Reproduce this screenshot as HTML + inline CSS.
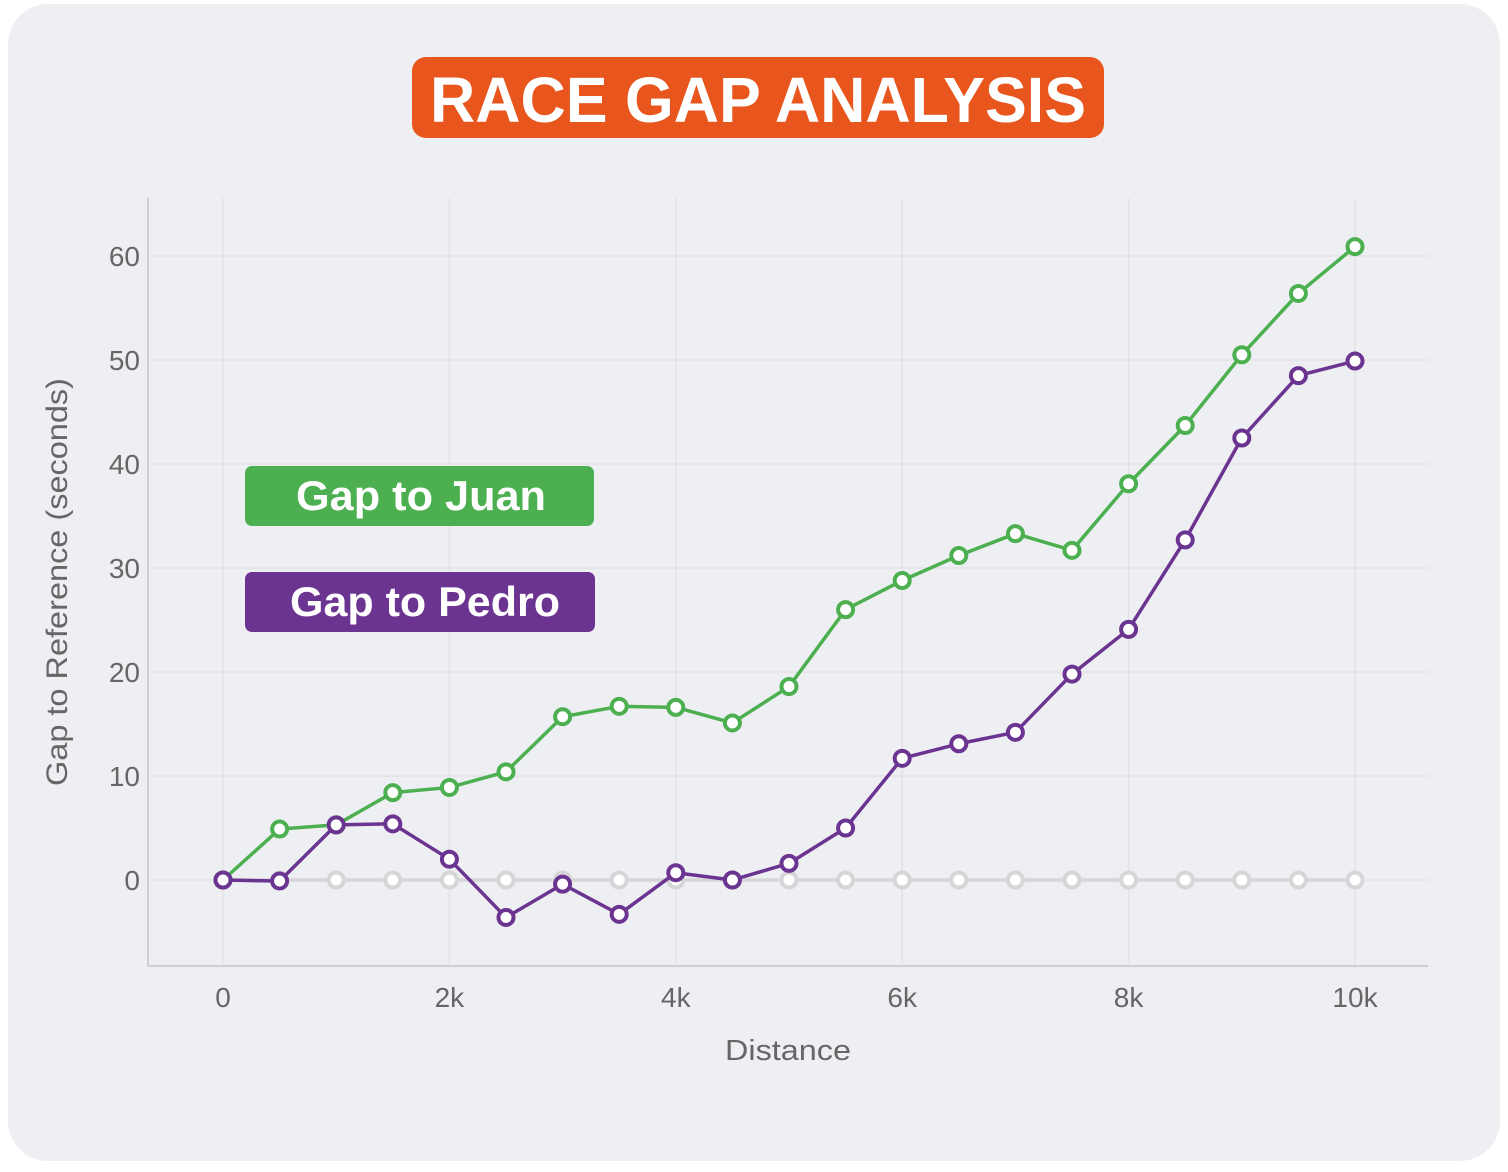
<!DOCTYPE html>
<html><head><meta charset="utf-8"><style>
html,body{margin:0;padding:0;background:#fff;width:1508px;height:1172px;overflow:hidden}
svg{display:block;font-family:"Liberation Sans",sans-serif}
</style></head><body>
<svg id="chart" width="1508" height="1172">
<rect x="8" y="4" width="1492" height="1157" rx="40" fill="#eeeff3"/>
<g>
<rect x="412" y="57" width="692" height="81" rx="14" fill="#e8561e"/>
<text x="758" y="122" text-anchor="middle" fill="#fff" font-size="64" font-weight="bold" textLength="656" lengthAdjust="spacingAndGlyphs">RACE GAP ANALYSIS</text>
</g>
<g id="grid"></g>
<line x1="148" y1="198" x2="148" y2="966" stroke="#cfcfd3" stroke-width="2"/>
<line x1="148" y1="966" x2="1428" y2="966" stroke="#cfcfd3" stroke-width="2"/>
<g id="ticks"></g>
<g id="series"></g>
<text x="788" y="1060" text-anchor="middle" font-size="29" fill="#666" textLength="126" lengthAdjust="spacingAndGlyphs">Distance</text>
<text transform="translate(67,582) rotate(-90)" text-anchor="middle" font-size="30" fill="#666" textLength="408" lengthAdjust="spacingAndGlyphs">Gap to Reference (seconds)</text>
<g>
<rect x="245" y="466" width="349" height="60" rx="7" fill="#4caf50"/>
<text x="421" y="510" text-anchor="middle" fill="#fff" font-size="42" font-weight="bold" textLength="250" lengthAdjust="spacingAndGlyphs">Gap to Juan</text>
</g>
<g>
<rect x="245" y="572" width="350" height="60" rx="7" fill="#6a3490"/>
<text x="425" y="616" text-anchor="middle" fill="#fff" font-size="42" font-weight="bold" textLength="270" lengthAdjust="spacingAndGlyphs">Gap to Pedro</text>
</g>
</svg>
<script>
const distances=[0,500,1000,1500,2000,2500,3000,3500,4000,4500,5000,5500,6000,6500,7000,7500,8000,8500,9000,9500,10000];
const gapJuan=[0,4.9,5.3,8.4,8.9,10.4,15.7,16.7,16.6,15.1,18.6,26.0,28.8,31.2,33.3,31.7,38.1,43.7,50.5,56.4,60.9];
const gapPedro=[0,-0.1,5.3,5.4,2.0,-3.6,-0.4,-3.3,0.7,0,1.6,5.0,11.7,13.1,14.2,19.8,24.1,32.7,42.5,48.5,49.9];
const gapRef=[0,0,0,0,0,0,0,0,0,0,0,0,0,0,0,0,0,0,0,0,0];
const xTicks=[0,2000,4000,6000,8000,10000];
const xTickLabels=["0","2k","4k","6k","8k","10k"];
const yTicks=[0,10,20,30,40,50,60];
const NS="http://www.w3.org/2000/svg";
const X=v=>223+v*(1355-223)/10000;
const Y=v=>880-v*(880-256)/60;
function mk(tag,attrs,parent){const e=document.createElementNS(NS,tag);for(const k in attrs)e.setAttribute(k,attrs[k]);parent.appendChild(e);return e;}
const grid=document.getElementById('grid'),ticks=document.getElementById('ticks'),series=document.getElementById('series');
xTicks.forEach((t,i)=>{
  const l=mk('line',{x1:X(t),x2:X(t),y1:198,y2:966,stroke:'#e3e3e7','stroke-width':1.5},grid);
  
  
  const tx=mk('text',{x:X(t),y:1007,'text-anchor':'middle','font-size':28,fill:'#666'},ticks);
  tx.textContent=xTickLabels[i];
  
  
});
yTicks.forEach(t=>{
  const l=mk('line',{x1:148,x2:1428,y1:Y(t),y2:Y(t),stroke:'#e3e3e7','stroke-width':1.5},grid);
  
  
  const tx=mk('text',{x:140,y:Y(t)+10,'text-anchor':'end','font-size':28,fill:'#666'},ticks);
  tx.textContent=String(t);
  
  
});
function drawSeries(vals,color,name){
  const g=mk('g',{},series);
  
  
  const p=mk('polyline',{points:vals.map((v,i)=>X(distances[i])+','+Y(v)).join(' '),fill:'none',stroke:color,'stroke-width':3.5,'stroke-linejoin':'round'},g);
  
  
  vals.forEach((v,i)=>{
    const c=mk('circle',{cx:X(distances[i]),cy:Y(v),r:7.5,fill:'#fff',stroke:color,'stroke-width':4},g);
    
    
  });
}
drawSeries(gapRef,'#d6d6d8','reference-series');
drawSeries(gapJuan,'#4caf50','juan-series');
drawSeries(gapPedro,'#6a3490','pedro-series');
</script>
</body></html>
